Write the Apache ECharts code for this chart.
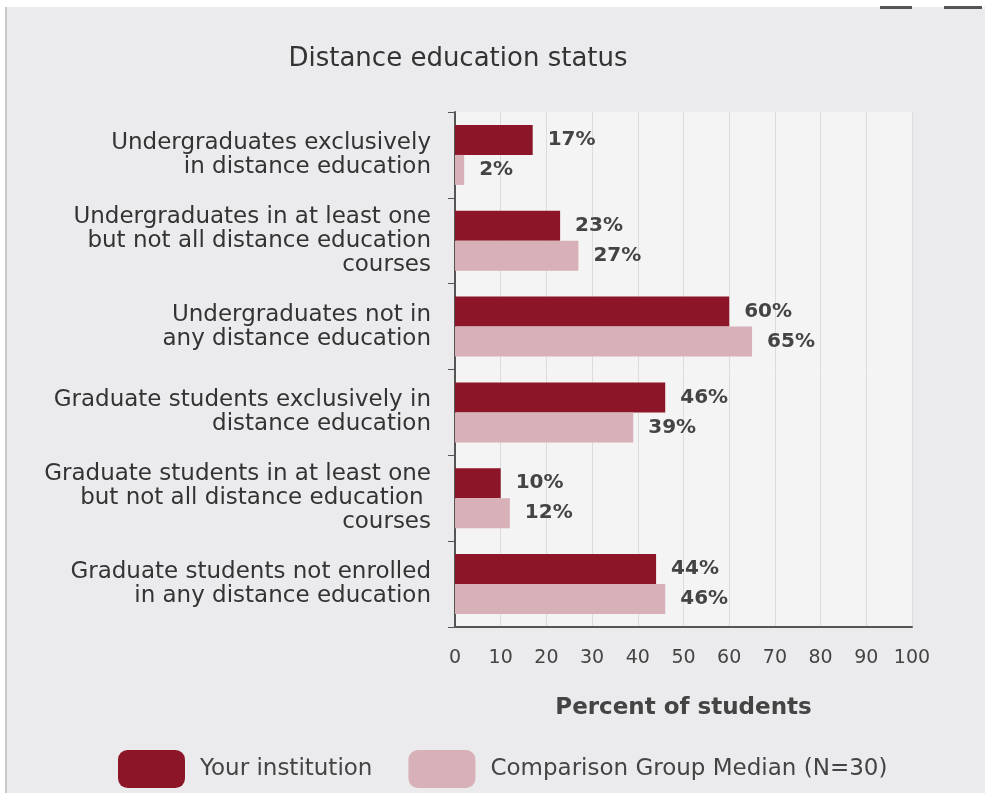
<!DOCTYPE html>
<html><head><meta charset="utf-8">
<script src="https://cdn.jsdelivr.net/npm/echarts@6/dist/echarts.min.js"></script>
<style>html,body{margin:0;padding:0;background:#fff}#c{width:985px;height:793px}</style>
</head><body><div id="c"></div>
<script>
const categories = [
  "Undergraduates exclusively\nin distance education",
  "Undergraduates in at least one\nbut not all distance education\ncourses",
  "Undergraduates not in\nany distance education",
  "Graduate students exclusively in\ndistance education",
  "Graduate students in at least one\nbut not all distance education \ncourses",
  "Graduate students not enrolled\nin any distance education"
];
const yourInstitution = [17, 23, 60, 46, 10, 44];
const comparisonMedian = [2, 27, 65, 39, 12, 46];
const seriesNames = ["Your institution", "Comparison Group Median (N=30)"];
const xTicks = [0, 10, 20, 30, 40, 50, 60, 70, 80, 90, 100];

const FONT = "DejaVu Sans, sans-serif";
const chart = echarts.init(document.getElementById('c'));
chart.setOption({
  backgroundColor: '#ebebed',
  animation: false,
  textStyle: { fontFamily: FONT },
  title: {
    text: 'Distance education status',
    left: 453, top: 41, textAlign: 'center',
    textStyle: { fontSize: 26, fontWeight: 'normal', color: '#333', fontFamily: FONT }
  },
  graphic: [
    { type: 'rect', shape: { x: 0, y: 0, width: 985, height: 7 }, style: { fill: '#ffffff' }, silent: true },
    { type: 'rect', shape: { x: 0, y: 0, width: 5, height: 793 }, style: { fill: '#ffffff' }, silent: true },
    { type: 'rect', shape: { x: 5, y: 7, width: 2, height: 786 }, style: { fill: '#c8c8c8' }, silent: true },
    { type: 'rect', shape: { x: 880, y: 6, width: 32, height: 3 }, style: { fill: '#555' }, silent: true },
    { type: 'rect', shape: { x: 944, y: 6, width: 38, height: 3 }, style: { fill: '#555' }, silent: true }
  ],
  legend: {
    bottom: 0, left: 113,
    itemWidth: 67, itemHeight: 38, itemGap: 36,
    icon: 'roundRect',
    textStyle: { fontSize: 23, color: '#444', fontFamily: FONT, padding: [0, 0, 0, 10] },
    data: seriesNames
  },
  grid: {
    left: 455, right: 73, top: 112, bottom: 166,
    show: true, backgroundColor: '#f4f4f4', borderWidth: 0
  },
  xAxis: {
    type: 'value', min: 0, max: 100, interval: 10,
    name: 'Percent of students', nameLocation: 'middle', nameGap: 70,
    nameTextStyle: { fontSize: 23, fontWeight: 'bold', color: '#444', fontFamily: FONT },
    axisLine: { show: true, lineStyle: { color: '#555', width: 2 } },
    axisTick: { show: false },
    axisLabel: { fontSize: 19, color: '#444', margin: 22, fontFamily: FONT,
      formatter: v => xTicks.includes(v) ? String(v) : '' },
    splitLine: { show: true, lineStyle: { color: '#dcdcdc', width: 1 } }
  },
  yAxis: {
    type: 'category', data: categories, inverse: true,
    axisLine: { show: true, lineStyle: { color: '#555', width: 2 } },
    axisTick: { show: true, length: 7, lineStyle: { color: '#555' } },
    axisLabel: { fontSize: 23, color: '#333', margin: 24, lineHeight: 24, align: 'right', fontFamily: FONT }
  },
  series: [
    {
      name: seriesNames[0], type: 'bar', data: yourInstitution,
      barWidth: 30, barGap: '0%',
      itemStyle: { color: '#8c1527' },
      label: { show: true, position: 'right', distance: 15, formatter: '{c}%',
        fontSize: 20, fontWeight: 'bold', color: '#444', fontFamily: FONT }
    },
    {
      name: seriesNames[1], type: 'bar', data: comparisonMedian,
      barWidth: 30, barGap: '0%',
      itemStyle: { color: '#d8b0b7' },
      label: { show: true, position: 'right', distance: 15, formatter: '{c}%',
        fontSize: 20, fontWeight: 'bold', color: '#444', fontFamily: FONT }
    }
  ]
});
</script></body></html>
